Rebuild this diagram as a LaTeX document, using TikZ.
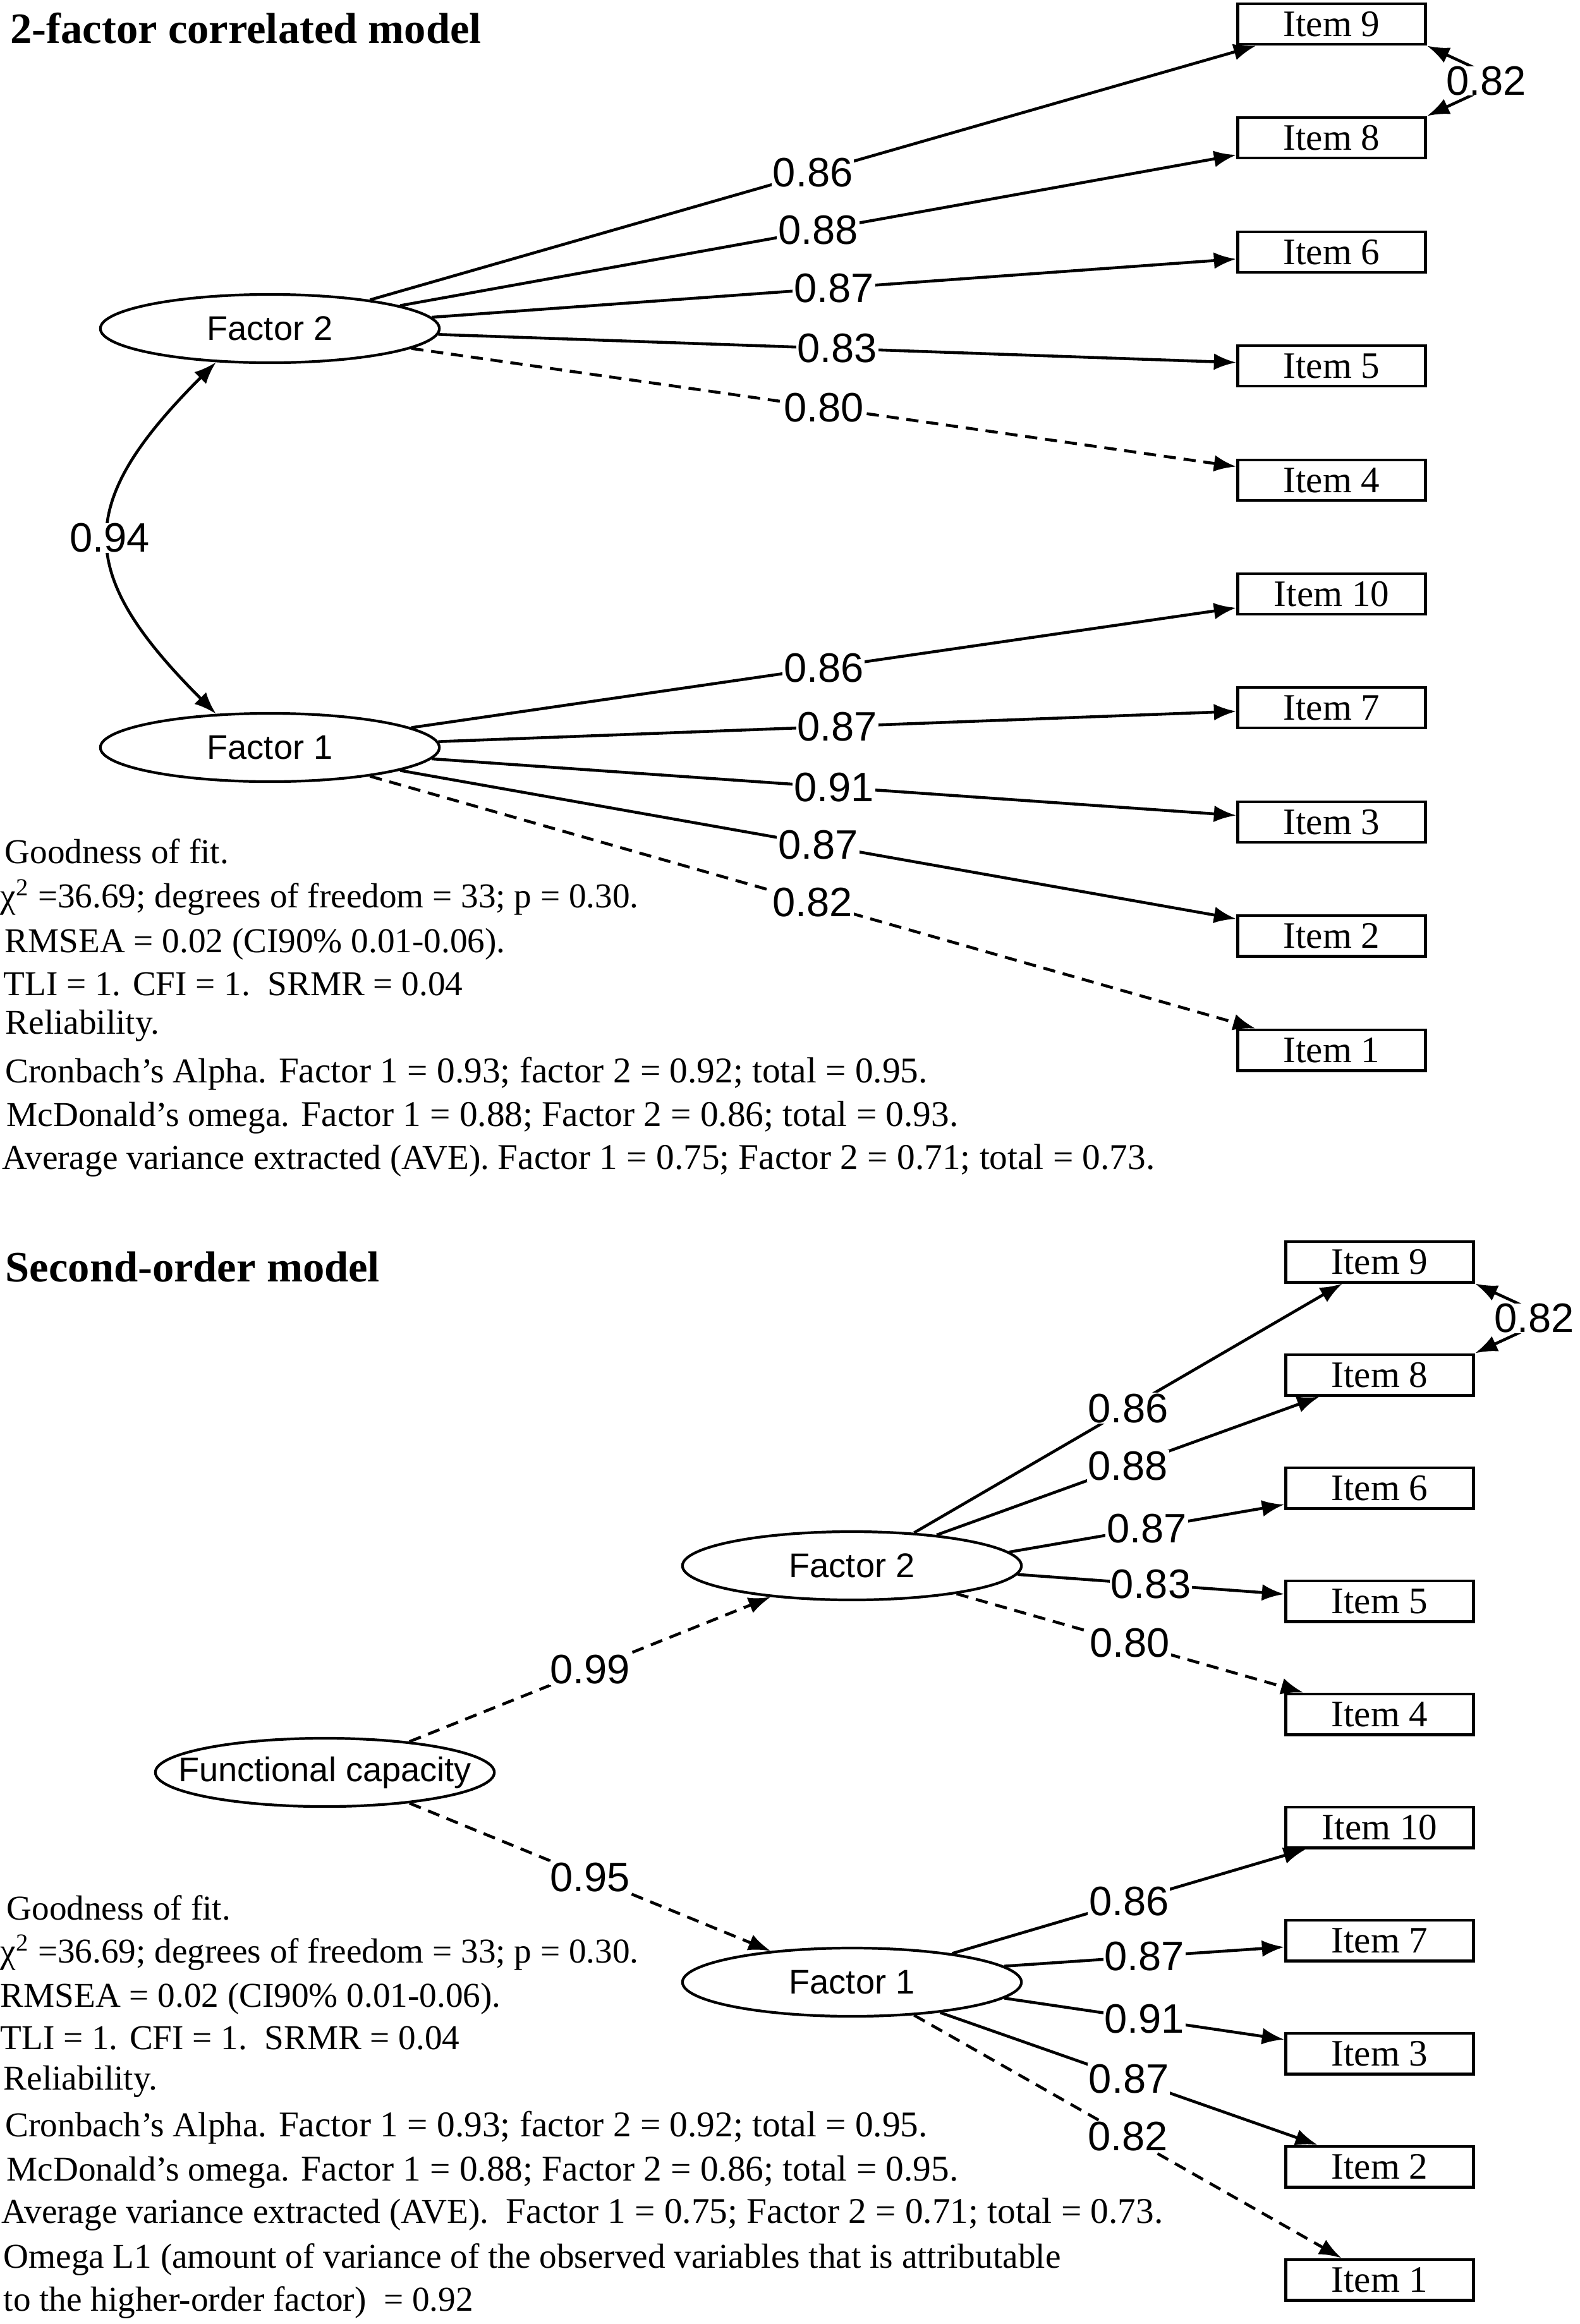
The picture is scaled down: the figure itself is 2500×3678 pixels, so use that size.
\documentclass[tikz,border=0pt]{standalone}
\usepackage{fontspec}
\setmainfont{Liberation Serif}
\newfontfamily\arialf{Liberation Sans}
\usetikzlibrary{shapes.geometric,arrows.meta}
\newcommand\bpart[1]{{\fontsize{16.3}{18}\selectfont #1}}
\newcommand\zw[1]{\makebox[0pt]{#1}}
\begin{document}
\begin{tikzpicture}[x=0.01cm,y=0.01cm,
  itembox/.style={draw,line width=1.4pt,minimum width=2.97cm,minimum height=0.64cm,inner sep=0pt,font=\fontsize{16.8}{18}\selectfont},
  latent/.style={draw,ellipse,line width=1.2pt,minimum width=5.36cm,minimum height=1.08cm,inner sep=0pt,font=\arialf\fontsize{15.4}{17}\selectfont},
  load/.style={line width=1.3pt,-{Latex[length=10pt,width=7.5pt]}},
  dload/.style={load,dash pattern=on 5.5pt off 3.5pt},
  cov/.style={line width=1.3pt,{Latex[length=10pt,width=7.5pt]}-{Latex[length=10pt,width=7.5pt]}},
  coef/.style={fill=white,inner sep=0.5pt,font=\arialf\fontsize{18.5}{20}\selectfont},
  heading/.style={anchor=base west,inner sep=0pt,font=\bfseries\fontsize{19.5}{22}\selectfont},
  body/.style={anchor=base west,inner sep=0pt,font=\fontsize{15.7}{18}\selectfont},
]
\fill[white] (0,0) rectangle (2500,-3678);
\useasboundingbox (0,0) rectangle (2500,-3678);

% ---------------- 2-factor correlated model ----------------
\node[heading] (t1) at (16,-68) {2-factor correlated model};

\node[itembox] (a9)  at (2107,-38)   {Item 9};
\node[itembox] (a8)  at (2107,-218)  {Item 8};
\node[itembox] (a6)  at (2107,-399)  {Item 6};
\node[itembox] (a5)  at (2107,-579)  {Item 5};
\node[itembox] (a4)  at (2107,-760)  {Item 4};
\node[itembox] (a10) at (2107,-940)  {Item 10};
\node[itembox] (a7)  at (2107,-1120) {Item 7};
\node[itembox] (a3)  at (2107,-1301) {Item 3};
\node[itembox] (a2)  at (2107,-1481) {Item 2};
\node[itembox] (a1)  at (2107,-1662) {Item 1};

\node[latent] (af2) at (427,-520)  {\zw{Factor 2}};
\node[latent] (af1) at (427,-1183) {\zw{Factor 1}};

\draw[load]  (af2.16) -- node[coef]{0.86} (a9);
\draw[load]  (af2.10) -- node[coef]{0.88} (a8);
\draw[load]  (af2.4)  -- node[coef]{0.87} (a6);
\draw[load]  (af2.-2) -- node[coef]{0.83} (a5);
\draw[dload] (af2.-8) -- node[coef]{0.80} (a4);

\draw[load]  (af1.8)   -- node[coef]{0.86} (a10);
\draw[load]  (af1.2)   -- node[coef]{0.87} (a7);
\draw[load]  (af1.-4)  -- node[coef]{0.91} (a3);
\draw[load]  (af1.-10) -- node[coef]{0.87} (a2);
\draw[dload] (af1.-16) -- node[coef]{0.82} (a1);

\draw[cov] (af2.212) .. controls +(-224,-224) and +(-224,224) .. node[coef,inner sep=0pt]{0.94} (af1.148);
\draw[cov] (a9.south east) .. controls +(125,-58) and +(125,58) .. node[coef,inner sep=0pt]{0.82} (a8.north east);

\node[body] (g1) at (7,-1366) {Goodness of fit.};
\node[body] (g2) at (0,-1436) {χ\textsuperscript{2} =36.69; degrees of freedom = 33; p = 0.30.};
\node[body] (g3) at (7,-1507) {RMSEA = 0.02 (CI90\% 0.01-0.06).};
\node[body] (g4) at (5,-1575) {TLI = 1. CFI = 1.\ \ SRMR = 0.04};
\node[body] (g5) at (8,-1636) {Reliability.};
\node[body] (g6) at (8,-1713) {Cronbach’s Alpha. \bpart{Factor 1 = 0.93; factor 2 = 0.92; total = 0.95.}};
\node[body] (g7) at (10,-1782) {McDonald’s omega. \bpart{Factor 1 = 0.88; Factor 2 = 0.86; total = 0.93.}};
\node[body] (g8) at (3,-1850) {Average variance extracted (AVE). \bpart{Factor 1 = 0.75; Factor 2 = 0.71; total = 0.73.}};

% ---------------- Second-order model ----------------
\node[heading] (t2) at (8,-2028) {Second-order model};

\node[itembox] (b9)  at (2183,-1997) {Item 9};
\node[itembox] (b8)  at (2183,-2176) {Item 8};
\node[itembox] (b6)  at (2183,-2355) {Item 6};
\node[itembox] (b5)  at (2183,-2534) {Item 5};
\node[itembox] (b4)  at (2183,-2713) {Item 4};
\node[itembox] (b10) at (2183,-2892) {Item 10};
\node[itembox] (b7)  at (2183,-3071) {Item 7};
\node[itembox] (b3)  at (2183,-3250) {Item 3};
\node[itembox] (b2)  at (2183,-3429) {Item 2};
\node[itembox] (b1)  at (2183,-3608) {Item 1};

\node[latent] (bfc) at (514,-2805)  {\zw{Functional capacity}};
\node[latent] (bf2) at (1348,-2478) {\zw{Factor 2}};
\node[latent] (bf1) at (1348,-3137) {\zw{Factor 1}};

\draw[dload] (bfc.20)  -- node[coef]{0.99} (bf2.-159);
\draw[dload] (bfc.-20) -- node[coef]{0.95} (bf1.159);

\draw[load]  (bf2.28)    -- node[coef]{0.86} (b9);
\draw[load]  (bf2.20)    -- node[coef]{0.88} (b8);
\draw[load]  (bf2.5.5)   -- node[coef]{0.87} (b6);
\draw[load]  (bf2.-3.7)  -- node[coef]{0.83} (b5);
\draw[dload] (bf2.-15.5) -- node[coef]{0.80} (b4);

\draw[load]  (bf1.16)    -- node[coef]{0.86} (b10);
\draw[load]  (bf1.6)     -- node[coef]{0.87} (b7);
\draw[load]  (bf1.-6.6)  -- node[coef]{0.91} (b3);
\draw[load]  (bf1.-19.6) -- node[coef]{0.87} (b2);
\draw[dload] (bf1.-28.5) -- node[coef]{0.82} (b1);

\draw[cov] (b9.south east) .. controls +(125,-58) and +(125,58) .. node[coef,inner sep=0pt]{0.82} (b8.north east);

\node[body] (h1)  at (10,-3038) {Goodness of fit.};
\node[body] (h2)  at (0,-3106)  {χ\textsuperscript{2} =36.69; degrees of freedom = 33; p = 0.30.};
\node[body] (h3)  at (0,-3176)  {RMSEA = 0.02 (CI90\% 0.01-0.06).};
\node[body] (h4)  at (0,-3243)  {TLI = 1. CFI = 1.\ \ SRMR = 0.04};
\node[body] (h5)  at (5,-3307)  {Reliability.};
\node[body] (h6)  at (8,-3381)  {Cronbach’s Alpha. \bpart{Factor 1 = 0.93; factor 2 = 0.92; total = 0.95.}};
\node[body] (h7)  at (10,-3451) {McDonald’s omega. \bpart{Factor 1 = 0.88; Factor 2 = 0.86; total = 0.95.}};
\node[body] (h8)  at (2,-3518)  {Average variance extracted (AVE).\hspace{0.5em}\bpart{Factor 1 = 0.75; Factor 2 = 0.71; total = 0.73.}};
\node[body] (h9)  at (5,-3589)  {Omega L1 (amount of variance of the observed variables that is attributable};
\node[body] (h10) at (5,-3657)  {to the higher-order factor)\ \ = 0.92};
\end{tikzpicture}
\end{document}
